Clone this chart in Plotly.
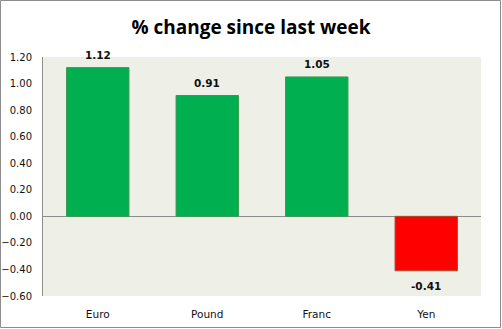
import plotly.graph_objects as go

currencies = ["Euro", "Pound", "Franc", "Yen"]
pct_change = [1.12, 0.91, 1.05, -0.41]
bar_colors = ["#00B050" if v >= 0 else "#FF0000" for v in pct_change]
edge_colors = ["#3C9A50" if v >= 0 else "#A0522D" for v in pct_change]
tick_vals = [-0.6, -0.4, -0.2, 0.0, 0.2, 0.4, 0.6, 0.8, 1.0, 1.2]

W, H = 502, 329
ml, mr, mt, mb = 43, 21, 57, 33
pw, ph = W - ml - mr, H - mt - mb

fig = go.Figure(
    go.Bar(
        x=currencies,
        y=pct_change,
        marker=dict(color=bar_colors, line=dict(color=edge_colors, width=1)),
        width=0.57,
        hoverinfo="x+y",
    )
)

# value labels above positive bars, below negative ones
for name, v in zip(currencies, pct_change):
    fig.add_annotation(
        x=name,
        y=v,
        text=f"<b>{v:.2f}</b>",
        showarrow=False,
        yshift=13 if v >= 0 else -15,
        font=dict(family="DejaVu Sans", size=10.5, color="#111111"),
    )

fig.update_layout(
    width=W,
    height=H,
    margin=dict(l=ml, r=mr, t=mt, b=mb, autoexpand=False),
    paper_bgcolor="white",
    plot_bgcolor="#EEF0E8",
    showlegend=False,
    title=dict(
        text="<b>% change since last week</b>",
        x=0.5,
        xanchor="center",
        y=1 - 27 / H,
        yanchor="middle",
        font=dict(family="Open Sans", size=19, color="black"),
    ),
    xaxis=dict(
        automargin=False,
        showgrid=False,
        showline=False,
        zeroline=False,
        ticks="",
        tickfont=dict(family="DejaVu Sans", size=10.5, color="#111111"),
        ticklabelstandoff=10,
    ),
    yaxis=dict(
        automargin=False,
        range=[-0.6, 1.2],
        tickvals=tick_vals,
        tickformat=".2f",
        showgrid=False,
        showline=True,
        linecolor="#8C8C8C",
        linewidth=1,
        zeroline=True,
        zerolinecolor="#8C8C8C",
        zerolinewidth=1,
        ticks="",
        tickfont=dict(family="DejaVu Sans", size=10, color="#111111"),
        ticklabelstandoff=8,
    ),
    shapes=[
        dict(
            type="rect",
            xref="paper",
            yref="paper",
            x0=-(ml - 0.5) / pw,
            x1=1 + (mr - 1.5) / pw,
            y0=-(mb - 1.5) / ph,
            y1=1 + (mt - 0.5) / ph,
            line=dict(color="#8C8C8C", width=1),
            fillcolor="rgba(0,0,0,0)",
            layer="below",
        )
    ],
)

fig.write_html("out.html")
